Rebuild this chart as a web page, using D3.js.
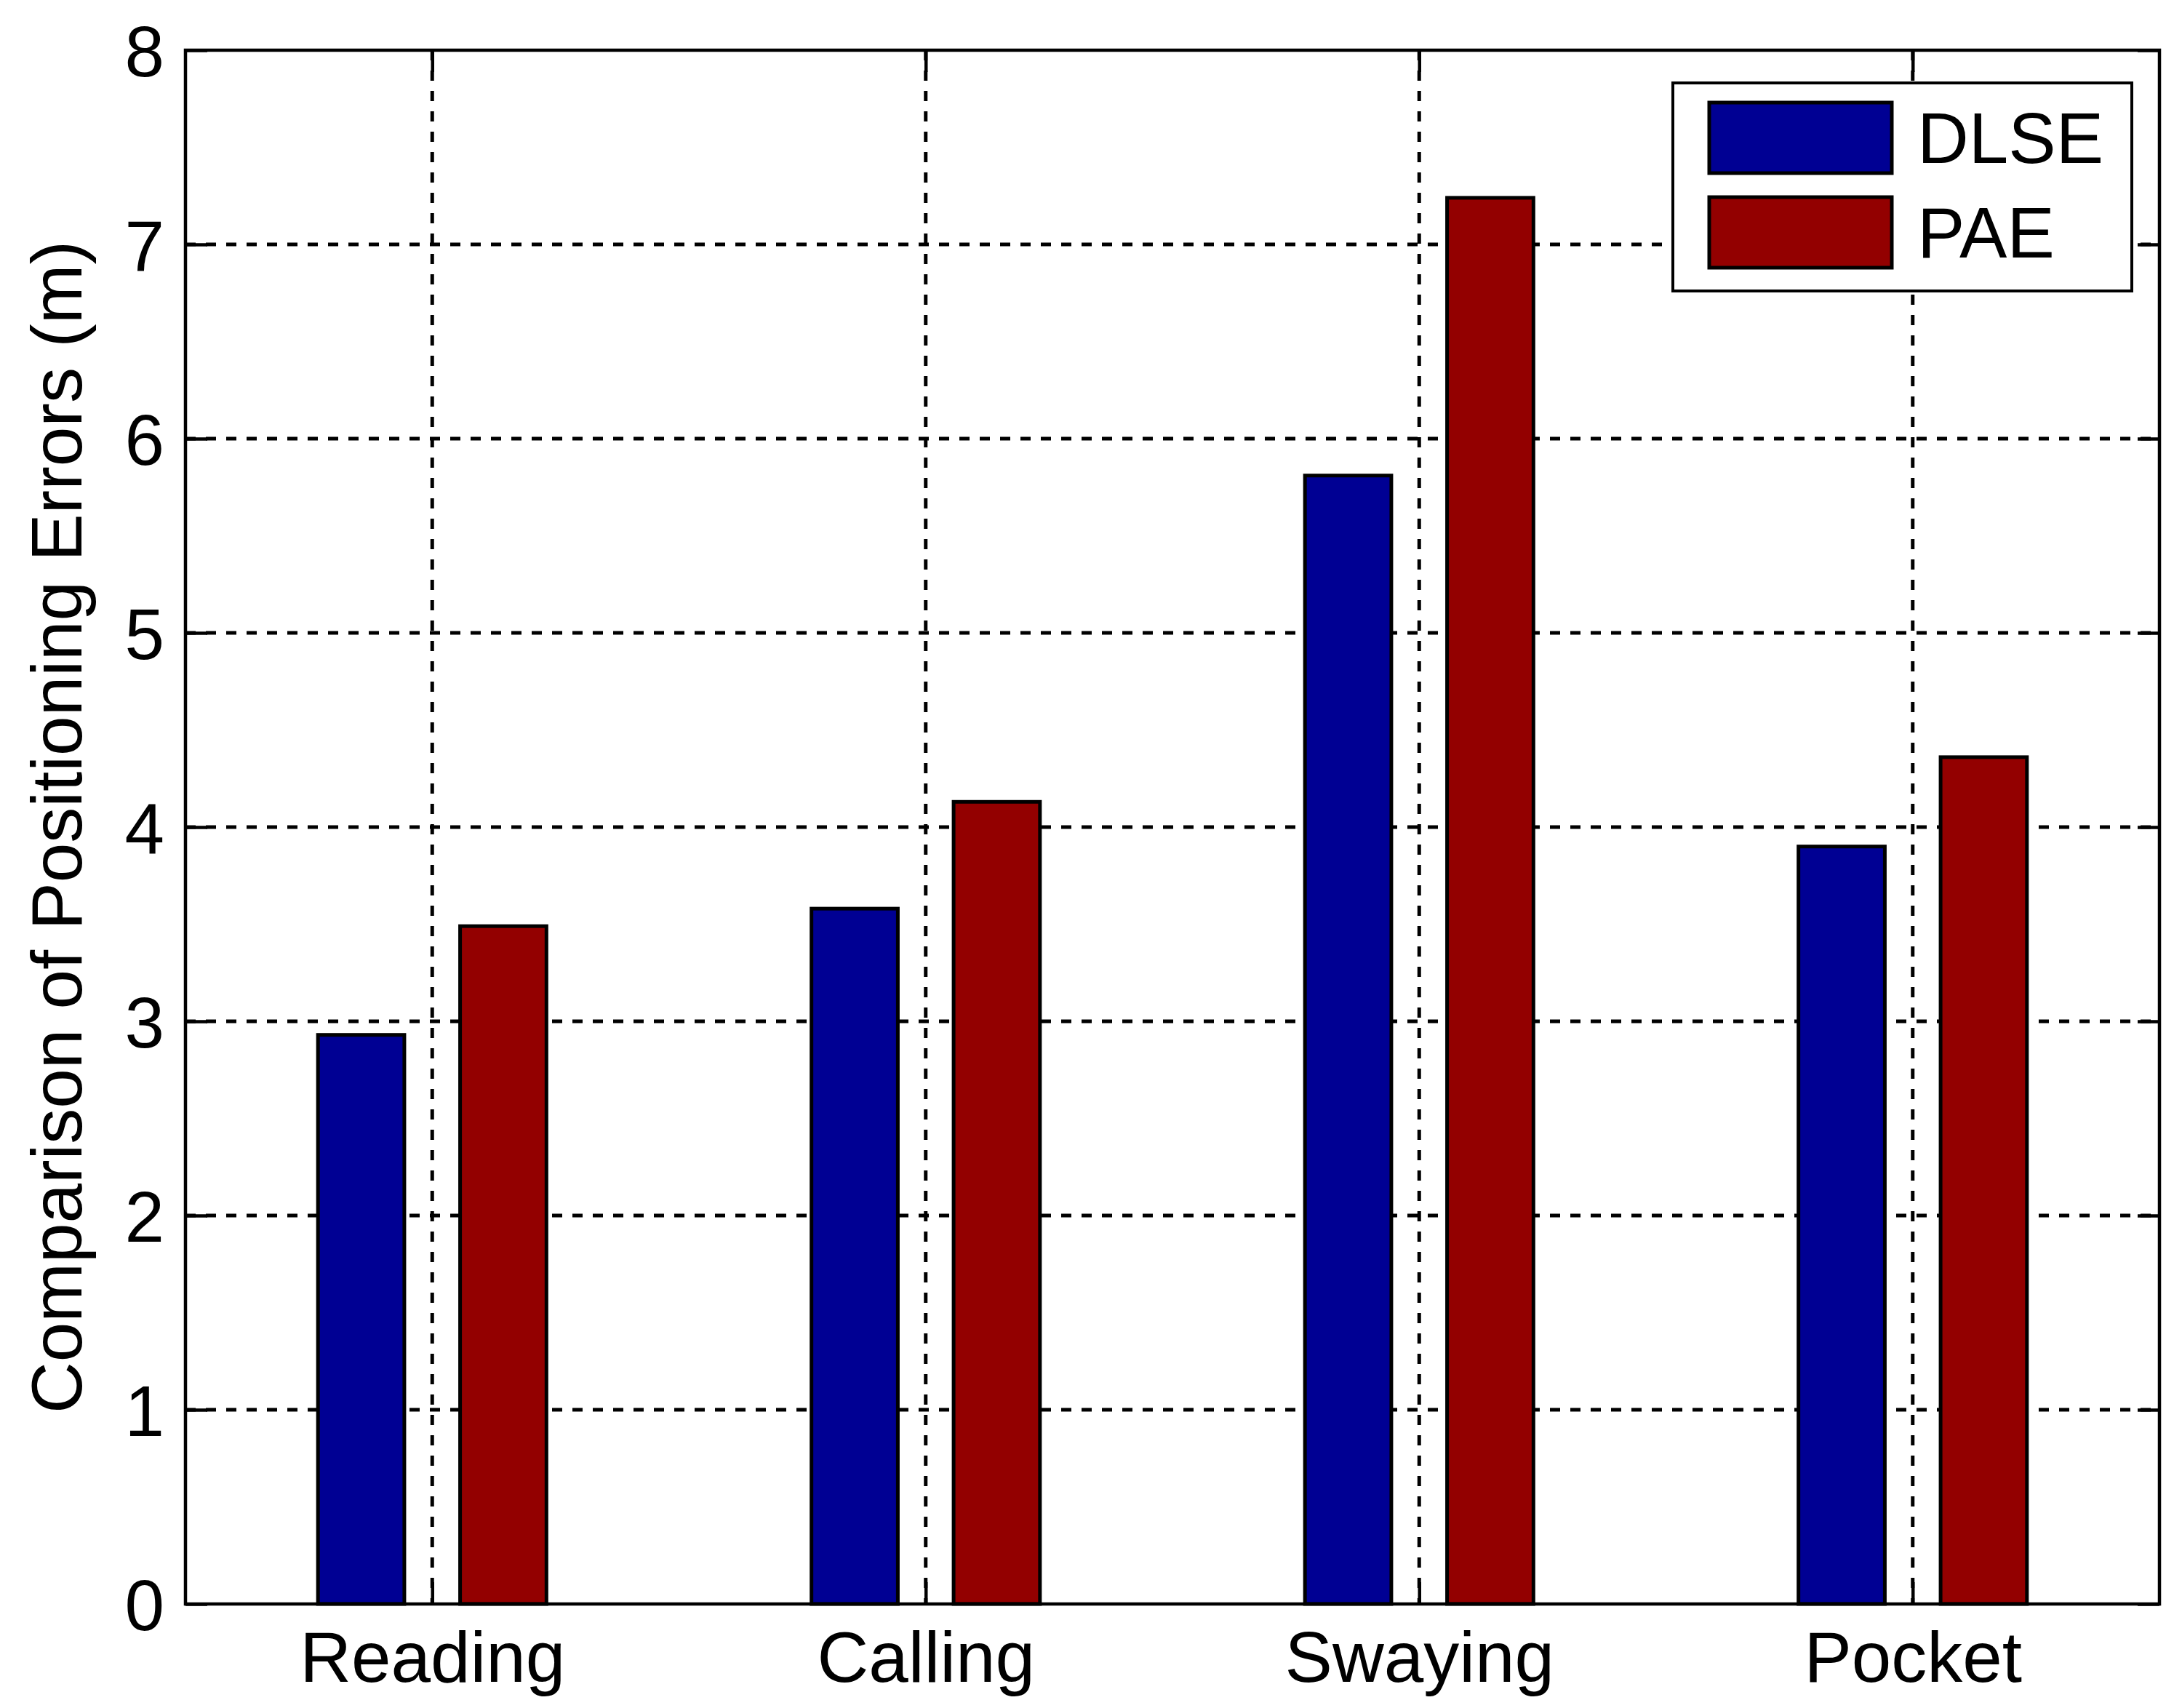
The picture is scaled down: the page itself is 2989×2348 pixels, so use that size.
<!DOCTYPE html>
<html>
<head>
<meta charset="utf-8">
<script src="https://cdn.jsdelivr.net/npm/d3@7"></script>
<style>
  body { margin: 0; background: #fff; }
  text { font-family: "Liberation Sans", Arial, sans-serif; }
</style>
</head>
<body>
<div id="chart"></div>
<script>
// data
var categories = ["Reading", "Calling", "Swaying", "Pocket"];
var seriesNames = ["DLSE", "PAE"];
var dlse = [2.93, 3.58, 5.81, 3.90];
var pae = [3.49, 4.13, 7.24, 4.36];
var yTicks = [0, 1, 2, 3, 4, 5, 6, 7, 8];

var colors = ["#000093", "#930000"];
var series = [dlse, pae];

var W = 2989, H = 2348;
// plot box (note: "top" is a reserved window property, so use other names)
var pLeft = 255, pRight = 2969, pTop = 69, pBottom = 2205;
var fs = 98;

var svg = d3.select("#chart").append("svg")
    .attr("width", W)
    .attr("height", H)
    .style("background", "#fff");

var x = d3.scaleLinear().domain([0.5, 4.5]).range([pLeft, pRight]);
var y = d3.scaleLinear().domain([0, 8]).range([pBottom, pTop]);

var offset = 0.144, barW = 0.175;

// grid lines
var grid = svg.append("g").attr("class", "grid")
    .attr("stroke", "#000")
    .attr("stroke-width", 5)
    .attr("stroke-dasharray", "14,14");

grid.selectAll(".hgrid")
    .data(yTicks.slice(1, -1))
  .enter().append("line")
    .attr("x1", pLeft).attr("x2", pRight)
    .attr("y1", function(d) { return y(d); })
    .attr("y2", function(d) { return y(d); });

grid.selectAll(".vgrid")
    .data([1, 2, 3, 4])
  .enter().append("line")
    .attr("y1", pTop).attr("y2", pBottom)
    .attr("x1", function(d) { return x(d); })
    .attr("x2", function(d) { return x(d); });

// bars
series.forEach(function(vals, s) {
  svg.append("g").selectAll("rect")
      .data(vals)
    .enter().append("rect")
      .attr("x", function(d, i) { return x(i + 1 + (s === 0 ? -offset : offset) - barW / 2); })
      .attr("width", x(barW) - x(0))
      .attr("y", function(d) { return y(d); })
      .attr("height", function(d) { return y(0) - y(d); })
      .attr("fill", colors[s])
      .attr("stroke", "#000")
      .attr("stroke-width", 5);
});

// axes, ticks pointing inward
var tick = 30;
var yAxis = svg.append("g")
    .attr("transform", "translate(" + pLeft + ",0)")
    .call(d3.axisLeft(y).tickValues(yTicks).tickSizeInner(-tick).tickSizeOuter(0).tickPadding(29));

svg.append("g")
    .attr("transform", "translate(" + pRight + ",0)")
    .call(d3.axisRight(y).tickValues(yTicks).tickSizeInner(-tick).tickSizeOuter(0).tickFormat(""));

var xAxis = svg.append("g")
    .attr("transform", "translate(0," + pBottom + ")")
    .call(d3.axisBottom(x).tickValues([1, 2, 3, 4])
      .tickFormat(function(d) { return categories[d - 1]; })
      .tickSizeInner(-tick).tickSizeOuter(0).tickPadding(37));

svg.append("g")
    .attr("transform", "translate(0," + pTop + ")")
    .call(d3.axisTop(x).tickValues([1, 2, 3, 4]).tickSizeInner(-tick).tickSizeOuter(0).tickFormat(""));

svg.selectAll(".domain").remove();
svg.selectAll(".tick line").attr("stroke", "#000").attr("stroke-width", 4.5);
svg.selectAll(".tick text")
    .attr("fill", "#000")
    .style("font-size", fs + "px")
    .style("font-family", '"Liberation Sans", Arial, sans-serif');
yAxis.selectAll(".tick text").attr("dy", "0.36em");

// frame
svg.append("rect")
    .attr("x", pLeft).attr("y", pTop)
    .attr("width", pRight - pLeft).attr("height", pBottom - pTop)
    .attr("fill", "none")
    .attr("stroke", "#000")
    .attr("stroke-width", 4.5);

// y label
svg.append("text")
    .attr("transform", "translate(112," + ((pTop + pBottom) / 2) + ") rotate(-90)")
    .attr("text-anchor", "middle")
    .style("font-size", fs + "px")
    .text("Comparison of Positioning Errors (m)");

// legend
var legend = svg.append("g");
legend.append("rect")
    .attr("x", 2300).attr("y", 114)
    .attr("width", 631).attr("height", 286)
    .attr("fill", "#fff")
    .attr("stroke", "#000")
    .attr("stroke-width", 4);

var items = legend.selectAll(".item")
    .data(seriesNames)
  .enter().append("g")
    .attr("transform", function(d, i) { return "translate(0," + (i * 130) + ")"; });

items.append("rect")
    .attr("x", 2350).attr("y", 141)
    .attr("width", 251).attr("height", 97)
    .attr("fill", function(d, i) { return colors[i]; })
    .attr("stroke", "#000")
    .attr("stroke-width", 5);

items.append("text")
    .attr("x", 2636).attr("y", 224)
    .style("font-size", fs + "px")
    .text(function(d) { return d; });
</script>
</body>
</html>
